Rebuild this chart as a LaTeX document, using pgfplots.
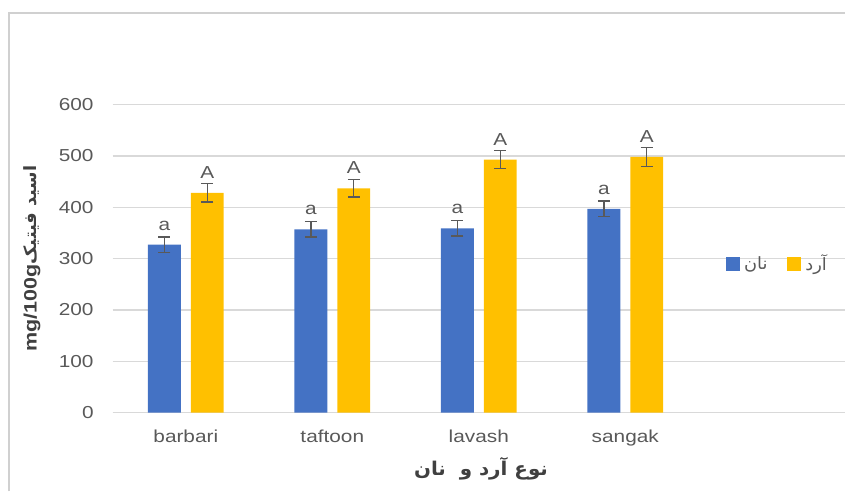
\documentclass[border=0pt]{standalone}
\usepackage{fontspec}
\usepackage{pgfplots}
\usepackage{pgfplotstable}
\pgfplotsset{compat=1.18}
\TeXXeTstate=1
\setmainfont[FakeStretch=1.2]{Liberation Sans}
\newfontfamily\arabicfont[Script=Arabic, FakeStretch=1.05]{DejaVu Sans}
\definecolor{cblue}{HTML}{4472C4}
\definecolor{corange}{HTML}{FFC000}
\definecolor{cgrid}{HTML}{D9D9D9}
\definecolor{ctext}{HTML}{595959}
\definecolor{clabel}{HTML}{404040}
\definecolor{cframe}{HTML}{D0D0D0}

\pgfplotstableread{
x y e l
0 327 15 a
1 357 15 a
2 359 15 a
3 397 15 a
}\nan
\pgfplotstableread{
x y e l
0 428 18 A
1 437 17 A
2 493 18 A
3 498 18 A
}\ard

\begin{document}
\begin{tikzpicture}
\begin{axis}[
  scale only axis, width=367.5pt, height=154.5pt,
  xmin=-0.5, xmax=4.5, ymin=0, ymax=600,
  ytick={0,100,...,600},
  xtick={0,1,2,3}, xticklabels={barbari,taftoon,lavash,sangak},
  ymajorgrids, grid style={cgrid, line width=0.6pt},
  axis x line*=bottom, axis y line*=left,
  x axis line style={cgrid, line width=0.8pt, -},
  y axis line style={draw=none},
  major tick length=0pt,
  tick label style={font=\fontsize{8.7}{10}\selectfont, text=ctext},
  /pgf/number format/assume math mode=true,
  yticklabel style={xshift=-6pt},
  xticklabel style={yshift=-5pt},
  ybar=5pt, bar width=16.5pt,
  clip=false,
  legend style={at={(axis description cs:0.829,0.482)}, anchor=west, draw=none, fill=none,
    legend columns=2, font=\arabicfont\fontsize{8.5}{10}\selectfont, text=ctext,
    /tikz/every even column/.append style={column sep=8pt}},
  legend image code/.code={\fill[#1] (0pt,-3.5pt) rectangle (7pt,3.5pt);},
  nodes near coords, point meta=explicit symbolic,
  every node near coord/.append style={anchor=south, inner sep=0pt, yshift=7pt,
    font=\fontsize{8.7}{10}\selectfont, text=ctext},
]
\addplot[fill=cblue, draw=none,
  error bars/.cd, y dir=both, y explicit,
  error bar style={ctext, line width=0.7pt},
  error mark options={rotate=90, mark size=3pt, ctext, line width=0.7pt}]
  table[x=x, y=y, y error=e, meta=l] {\nan};
\addplot[fill=corange, draw=none,
  error bars/.cd, y dir=both, y explicit,
  error bar style={ctext, line width=0.7pt},
  error mark options={rotate=90, mark size=3pt, ctext, line width=0.7pt}]
  table[x=x, y=y, y error=e, meta=l] {\ard};
\legend{\beginR نان\endR, \beginR آرد\endR}
\node[rotate=90, font=\fontsize{9}{11}\selectfont\bfseries, text=clabel, anchor=center]
  at (axis description cs:-0.110,0.5) {mg/100g{\arabicfont\fontsize{8.5}{10}\selectfont\bfseries\beginR اسید فیتیک\endR}};
\node[font=\arabicfont\fontsize{9.5}{11}\selectfont\bfseries, text=clabel, anchor=center]
  at (axis description cs:0.503,-0.181) {\beginR نوع آرد و~~نان\endR};
\draw[cframe, line width=1pt] (rel axis cs:-0.1415,-0.2557) -- (rel axis cs:-0.1415,1.2977) -- (rel axis cs:1.0,1.2977);
\path (rel axis cs:-0.1537,-0.2557) rectangle (rel axis cs:1.0,1.3398);
\end{axis}
\end{tikzpicture}
\end{document}
